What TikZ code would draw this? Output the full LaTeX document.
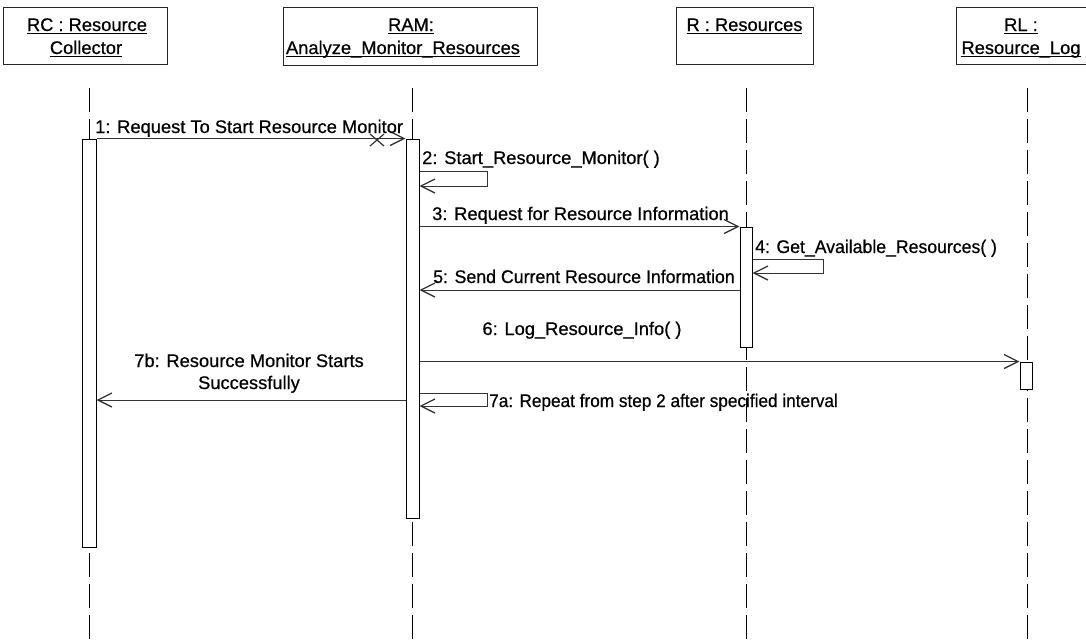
\documentclass[tikz,border=0pt]{standalone}
\usepackage{fontspec}
\setmainfont[FakeBold=0.6]{Liberation Sans}
\usetikzlibrary{arrows.meta}

% underline sitting just under the baseline
\newcommand{\ulin}[1]{\sbox0{#1}\rlap{\rule[-2.6pt]{\wd0}{1pt}}\usebox0}

\begin{document}
\begin{tikzpicture}[x=1pt,y=-1pt,
  txt/.style={inner sep=0pt,font=\fontsize{18.3}{23}\selectfont},
  narrow/.style={inner sep=0pt,font=\fontsize{18.3}{23}\selectfont\addfontfeature{FakeStretch=#1}},
  headbox/.style={draw=black!85,line width=1pt,fill=white,inner sep=0pt},
  lifeline/.style={draw=black,line width=0.9pt,dash pattern=on 24pt off 7pt},
  actbar/.style={draw=black,line width=1pt,fill=white,inner sep=0pt,minimum width=13pt},
  msg/.style={draw=black!80,line width=0.9pt,
    -{Straight Barb[length=14pt,width=14pt,line width=1.3pt]}},
]
\useasboundingbox (0,0) rectangle (1086,641);

% object heads
\node[headbox,minimum width=164pt,minimum height=57pt] (rc)  at (85,35.5) {};
\node[headbox,minimum width=254pt,minimum height=58pt] (ram) at (410,36) {};
\node[headbox,minimum width=137pt,minimum height=57pt] (r)   at (744.5,35.5) {};
\node[headbox,minimum width=136pt,minimum height=57pt] (rl)  at (1024,35.5) {};

\node[txt,anchor=base] (rcA)  at (87,31)    {\ulin{RC : Resource}};
\node[txt,anchor=base] (rcB)  at (86,54)    {\ulin{Collector}};
\node[txt,anchor=base] (ramA) at (411,31)   {\ulin{RAM:}};
\node[txt,anchor=base] (ramB) at (403,54)   {\ulin{Analyze\_Monitor\_Resources}};
\node[txt,anchor=base] (rA)   at (744.5,31) {\ulin{R : Resources}};
\node[txt,anchor=base] (rlA)  at (1021,31)  {\ulin{RL :}};
\node[txt,anchor=base] (rlB)  at (1021,54)  {\ulin{Resource\_Log}};

% lifelines
\coordinate (rcTop)  at (89.5,88);   \coordinate (rcEnd)  at (89.5,641);
\coordinate (ramTop) at (412.5,88);  \coordinate (ramEnd) at (412.5,641);
\coordinate (rTop)   at (746,88);    \coordinate (rEnd)   at (746,641);
\coordinate (rlTop)  at (1027,88);   \coordinate (rlEnd)  at (1027,641);
\draw[lifeline] (rcTop) -- (rcEnd);
\draw[lifeline] (ramTop) -- (ramEnd);
\draw[lifeline] (rTop) -- (rEnd);
\draw[lifeline] (rlTop) -- (rlEnd);

% activation bars
\node[actbar,minimum width=14pt,minimum height=408pt] (rcbar)  at (89,343) {};
\node[actbar,minimum width=13pt,minimum height=379pt] (rambar) at (412.5,328.5) {};
\node[actbar,minimum width=12pt,minimum height=120pt] (rbar)   at (746,287) {};
\node[actbar,minimum width=12pt,minimum height=27pt]  (rlbar)  at (1026,375.5) {};

% 1
\draw[msg] (rcbar.north east) -- (rambar.north west);
\node[txt,anchor=base west] (l1) at (95,133) {1: Request To Start Resource Monitor};
\coordinate (xc) at (377,140);
\draw[black!80,line width=1.2pt] ([shift={(-7,-6)}]xc) -- ([shift={(7,6)}]xc)
  ([shift={(-7,6)}]xc) -- ([shift={(7,-6)}]xc);

% 2
\node[txt,anchor=base west] (l2) at (422,164) {2: Start\_Resource\_Monitor( )};
\draw[msg] (rambar.east |- 0,171) -| (487,186) -- (rambar.east |- 0,186);

% 3
\node[txt,anchor=base west] (l3) at (432,220) {3: Request for Resource Information};
\draw[msg] (rambar.east |- rbar.north) -- (rbar.north west);

% 4
\node[narrow=0.965,anchor=base west] (l4) at (755,253) {4: Get\_Available\_Resources( )};
\draw[msg] (rbar.east |- 0,259) -| (823,273) -- (rbar.east |- 0,273);

% 5
\node[narrow=0.97,anchor=base west] (l5) at (433,283) {5: Send Current Resource Information};
\draw[msg] (rbar.west |- 0,290) -- (rambar.east |- 0,290);

% 6
\node[txt,anchor=base] (l6) at (582,335) {6: Log\_Resource\_Info( )};
\draw[msg] (rambar.east |- rlbar.north) -- (rlbar.north west);

% 7a
\draw[msg] (rambar.east |- 0,393) -| (487,406) -- (rambar.east |- 0,406);
\node[narrow=0.94,anchor=base west] (l7a) at (489,407) {7a: Repeat from step 2 after specified interval};

% 7b
\node[txt,anchor=base] (l7b)  at (249,367) {7b: Resource Monitor Starts};
\node[txt,anchor=base] (l7bb) at (249,389) {Successfully};
\draw[msg] (rambar.west |- 0,400) -- (rcbar.east |- 0,400);
\end{tikzpicture}
\end{document}
